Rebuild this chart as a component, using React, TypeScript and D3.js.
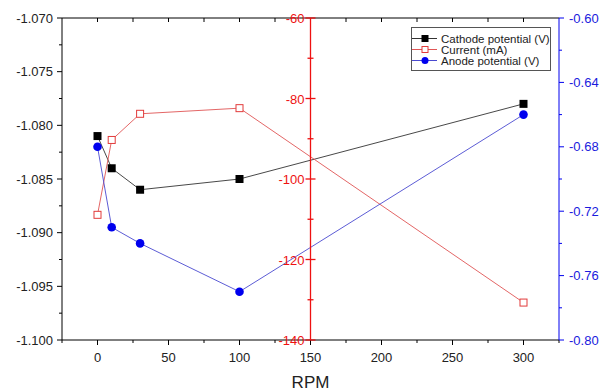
import React from 'react';
import * as d3 from 'd3';

// data
const rpm = [0, 10, 30, 100, 300];
const cathode = [-1.081, -1.084, -1.086, -1.085, -1.078];
const current = [-108.9, -90.3, -83.8, -82.4, -130.7];
const anode = [-0.68, -0.73, -0.74, -0.77, -0.66];

const xTicks = [0, 50, 100, 150, 200, 250, 300];
const leftTicks = [-1.07, -1.075, -1.08, -1.085, -1.09, -1.095, -1.1];
const midTicks = [-60, -80, -100, -120, -140];
const rightTicks = [-0.6, -0.64, -0.68, -0.72, -0.76, -0.8];

const legendItems = [
  { name: 'Cathode potential (V)', color: '#000', line: '#333', marker: 'fsquare' },
  { name: 'Current (mA)', color: '#e23b3b', line: '#e05555', marker: 'osquare' },
  { name: 'Anode potential (V)', color: '#0000ee', line: '#4a4ad0', marker: 'circle' }
];

const W = 603;
const H = 391;
const left = 62;
const right = 559;
const top = 18;
const bottom = 340;
const font = '"Liberation Sans", Arial, sans-serif';

const App = () => {
  const x = d3.scaleLinear().domain([-25, 325]).range([left, right]);
  const yL = d3.scaleLinear().domain([-1.1, -1.07]).range([bottom, top]);
  const yM = d3.scaleLinear().domain([-140, -60]).range([bottom, top]);
  const yR = d3.scaleLinear().domain([-0.8, -0.6]).range([bottom, top]);
  const midX = x(150);

  const lineL = d3.line<number>().x((d, i) => x(rpm[i])).y(d => yL(d));
  const lineM = d3.line<number>().x((d, i) => x(rpm[i])).y(d => yM(d));
  const lineR = d3.line<number>().x((d, i) => x(rpm[i])).y(d => yR(d));

  const minorX = d3.range(-25, 326, 25);
  const minorL = d3.range(0, 7).map(i => -1.1 + i * 0.005 + 0.0025).filter(v => v < -1.07);
  const minorM = d3.range(0, 4).map(i => -130 + i * 20);
  const minorR = d3.range(0, 5).map(i => -0.78 + i * 0.04);

  const marker = (kind: string, cx: number, cy: number, color: string, key: any) => {
    if (kind === 'fsquare')
      return <rect key={key} x={cx - 4} y={cy - 4} width={8} height={8} fill={color} />;
    if (kind === 'osquare')
      return <rect key={key} x={cx - 3.5} y={cy - 3.5} width={7} height={7} fill="#fff" stroke={color} strokeWidth={1} />;
    return <circle key={key} cx={cx} cy={cy} r={4.3} fill={color} />;
  };

  return (
    <svg width={W} height={H} style={{ position: 'absolute', left: 0, top: 0, background: '#fff' }} fontFamily={font}>
      {/* frame */}
      <line x1={left} x2={right} y1={top} y2={top} stroke="#000" />
      <line x1={left} x2={right} y1={bottom} y2={bottom} stroke="#000" />
      <line x1={left} x2={left} y1={top} y2={bottom} stroke="#000" />

      {/* bottom axis */}
      {minorX.map(t => (
        <line key={'bx' + t} x1={x(t)} x2={x(t)} y1={bottom} y2={bottom + (t % 50 === 0 ? 5 : 3)} stroke="#000" />
      ))}
      {minorX.filter(t => t > -25 && t < 325).map(t => (
        <line key={'tx' + t} x1={x(t)} x2={x(t)} y1={top} y2={top + 4} stroke="#000" />
      ))}
      {xTicks.map(t => (
        <text key={'xl' + t} x={x(t)} y={362} textAnchor="middle" fontSize={13} fill="#222">{t}</text>
      ))}
      <text x={midX} y={388} textAnchor="middle" fontSize={17} fill="#222">RPM</text>

      {/* left axis */}
      {leftTicks.map(t => (
        <g key={'ll' + t}>
          <line x1={left - 5} x2={left} y1={yL(t)} y2={yL(t)} stroke="#000" />
          <text x={53} y={yL(t) + 4.5} textAnchor="end" fontSize={13} fill="#222">{t.toFixed(3)}</text>
        </g>
      ))}
      {minorL.map(t => (
        <line key={'lm' + t} x1={left - 3} x2={left} y1={yL(t)} y2={yL(t)} stroke="#000" />
      ))}

      {/* right axis */}
      <line x1={right} x2={right} y1={top} y2={bottom} stroke="#0000ee" />
      {rightTicks.map(t => (
        <g key={'rl' + t}>
          <line x1={right} x2={right + 5} y1={yR(t)} y2={yR(t)} stroke="#0000ee" />
          <text x={569} y={yR(t) + 4.5} fontSize={13} fill="#1a1add">{t.toFixed(2)}</text>
        </g>
      ))}
      {minorR.map(t => (
        <line key={'rm' + t} x1={right} x2={right + 3} y1={yR(t)} y2={yR(t)} stroke="#0000ee" />
      ))}

      {/* data lines */}
      <path d={lineL(cathode) || ''} fill="none" stroke="#333" strokeWidth={0.9} />
      <path d={lineM(current) || ''} fill="none" stroke="#e05555" strokeWidth={0.9} />
      <path d={lineR(anode) || ''} fill="none" stroke="#4a4ad0" strokeWidth={0.9} />

      {/* middle red axis */}
      <line x1={midX} x2={midX} y1={top} y2={bottom} stroke="#ee1111" strokeWidth={1.3} />
      {midTicks.map(t => (
        <g key={'ml' + t}>
          <line x1={midX - 5} x2={midX + 5} y1={yM(t)} y2={yM(t)} stroke="#ee1111" strokeWidth={1.3} />
          <text x={midX - 6} y={yM(t) + 5} textAnchor="end" fontSize={13} fill="#ee1111">{t}</text>
        </g>
      ))}
      {minorM.map(t => (
        <line key={'mm' + t} x1={midX - 3} x2={midX + 3} y1={yM(t)} y2={yM(t)} stroke="#ee1111" strokeWidth={1.3} />
      ))}

      {/* markers */}
      {cathode.map((v, i) => marker('fsquare', x(rpm[i]), yL(v), '#000', 'c' + i))}
      {current.map((v, i) => marker('osquare', x(rpm[i]), yM(v), '#e23b3b', 'i' + i))}
      {anode.map((v, i) => marker('circle', x(rpm[i]), yR(v), '#0000ee', 'a' + i))}

      {/* legend */}
      <rect x={411.5} y={27.5} width={139} height={43} fill="#fff" stroke="#555" />
      {legendItems.map((d, i) => {
        const cy = 38.5 + i * 11;
        return (
          <g key={d.name}>
            <line x1={412} x2={437} y1={cy} y2={cy} stroke={d.line} />
            {d.marker === 'fsquare' && <rect x={421.5} y={cy - 3.5} width={7} height={7} fill={d.color} />}
            {d.marker === 'osquare' && <rect x={422} y={cy - 3} width={6} height={6} fill="#fff" stroke={d.color} />}
            {d.marker === 'circle' && <circle cx={425} cy={cy} r={3.5} fill={d.color} />}
            <text x={441} y={cy + 4} fontSize={11.5} fill="#222">{d.name}</text>
          </g>
        );
      })}
    </svg>
  );
};

export default App;
